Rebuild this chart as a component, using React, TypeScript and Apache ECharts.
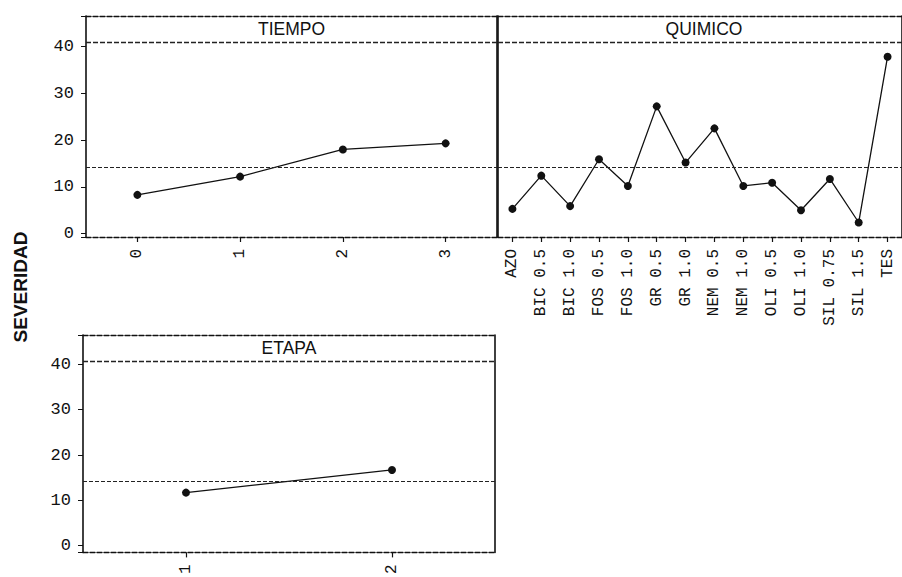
import React, { useEffect, useRef } from "react";
import * as echarts from "echarts";

const tiempoCats = ["0", "1", "2", "3"];
const tiempoVals = [8.3, 12.2, 18.0, 19.3];
const quimicoCats = [
  "AZO", "BIC 0.5", "BIC 1.0", "FOS 0.5", "FOS 1.0", "GR 0.5", "GR 1.0",
  "NEM 0.5", "NEM 1.0", "OLI 0.5", "OLI 1.0", "SIL 0.75", "SIL 1.5", "TES",
];
const quimicoVals = [5.3, 12.4, 5.9, 15.9, 10.2, 27.2, 15.2, 22.5, 10.2, 10.9, 5.0, 11.7, 2.4, 37.8];
const etapaCats = ["1", "2"];
const etapaVals = [11.7, 16.7];
const grandMean = 14.3;
const stripLevel = 40.8;
const yTickStep = 10;

const panelTitles = ["TIEMPO", "QUIMICO", "ETAPA"];
const yAxisTitle = "SEVERIDAD";

export default function App() {
  const ref = useRef<HTMLDivElement>(null);
  useEffect(() => {
    if (!ref.current) return;
    const chart = echarts.init(ref.current, null, { renderer: "svg" });
    const mono = "Liberation Mono";
    const grids = [
      { left: 86, top: 16, width: 411, height: 221 },
      { left: 498, top: 16, width: 412, height: 221 },
      { left: 83, top: 335, width: 412, height: 222 },
    ];
    const ranges = [
      { min: -0.7, max: 46.5 },
      { min: -0.7, max: 46.5 },
      { min: -1.5, max: 46.5 },
    ];
    const cats = [tiempoCats, quimicoCats, etapaCats];
    const vals = [tiempoVals, quimicoVals, etapaVals];
    const showY = [true, false, true];

    const xAxis: any[] = [];
    const yAxis: any[] = [];
    const series: any[] = [];
    grids.forEach((g, i) => {
      xAxis.push({
        gridIndex: i,
        type: "category",
        data: cats[i],
        boundaryGap: true,
        position: "bottom",
        axisLine: { show: true, onZero: false, lineStyle: { color: "#111", width: 1.4, type: [5, 2] } },
        axisTick: { show: true, alignWithLabel: true, length: 5, lineStyle: { color: "#111", width: 1.2 } },
        axisLabel: {
          rotate: 90,
          margin: 12,
          interval: 0,
          color: "#111",
          fontFamily: mono,
          fontSize: 16,
        },
        splitLine: { show: false },
      });
      xAxis.push({
        gridIndex: i,
        type: "category",
        data: cats[i],
        position: "top",
        axisLine: { show: true, onZero: false, lineStyle: { color: "#111", width: 1.4, type: [5, 2] } },
        axisTick: { show: false },
        axisLabel: { show: false },
        splitLine: { show: false },
      });
      yAxis.push({
        gridIndex: i,
        type: "value",
        min: ranges[i].min,
        max: ranges[i].max,
        position: "left",
        axisLine: { show: true, onZero: false, lineStyle: { color: "#111", width: 1.6 } },
        axisTick: {
          show: showY[i],
          length: 5,
          lineStyle: { color: "#111" },
        },
        axisLabel: {
          show: showY[i],
          margin: 12,
          color: "#111",
          fontFamily: mono,
          fontSize: 17,
          formatter: (v: number) =>
            Math.abs(v / yTickStep - Math.round(v / yTickStep)) < 1e-6 ? String(Math.round(v)) : "",
        },
        splitLine: { show: false },
      });
      yAxis.push({
        gridIndex: i,
        type: "value",
        min: ranges[i].min,
        max: ranges[i].max,
        position: "right",
        axisLine: { show: true, onZero: false, lineStyle: { color: "#111", width: 1.6 } },
        axisTick: { show: false },
        axisLabel: { show: false },
        splitLine: { show: false },
      });
      series.push({
        type: "line",
        xAxisIndex: i * 2,
        yAxisIndex: i * 2,
        data: vals[i],
        symbol: "circle",
        symbolSize: 8,
        lineStyle: { color: "#111", width: 1.3 },
        itemStyle: { color: "#111" },
        markLine: {
          silent: true,
          symbol: "none",
          label: { show: false },
          animation: false,
          data: [
            { yAxis: grandMean, lineStyle: { color: "#222", width: 1.2, type: [4, 2] } },
            { yAxis: stripLevel, lineStyle: { color: "#222", width: 1.4, type: [5, 2] } },
          ],
        },
      });
    });

    const graphic: any[] = grids.map((g, i) => ({
      type: "text",
      x: g.left + g.width / 2,
      y: g.top + 13,
      style: {
        text: panelTitles[i],
        fontFamily: "Liberation Sans",
        fontSize: 17.5,
        fill: "#111",
        textAlign: "center",
        textVerticalAlign: "middle",
      },
    }));
    graphic.push({
      type: "text",
      x: 20,
      y: 287,
      rotation: Math.PI / 2,
      style: {
        text: yAxisTitle,
        fontFamily: "Liberation Sans",
        fontWeight: "bold",
        fontSize: 19,
        fill: "#111",
        textAlign: "center",
        textVerticalAlign: "middle",
      },
    });

    chart.setOption({
      animation: false,
      backgroundColor: "#fff",
      grid: grids.map((g) => ({ ...g, containLabel: false })),
      xAxis,
      yAxis,
      series,
      graphic,
    });
    return () => chart.dispose();
  }, []);
  return (
    <div
      ref={ref}
      style={{ position: "fixed", left: 0, top: 0, width: 902, height: 577, background: "#fff" }}
    />
  );
}
